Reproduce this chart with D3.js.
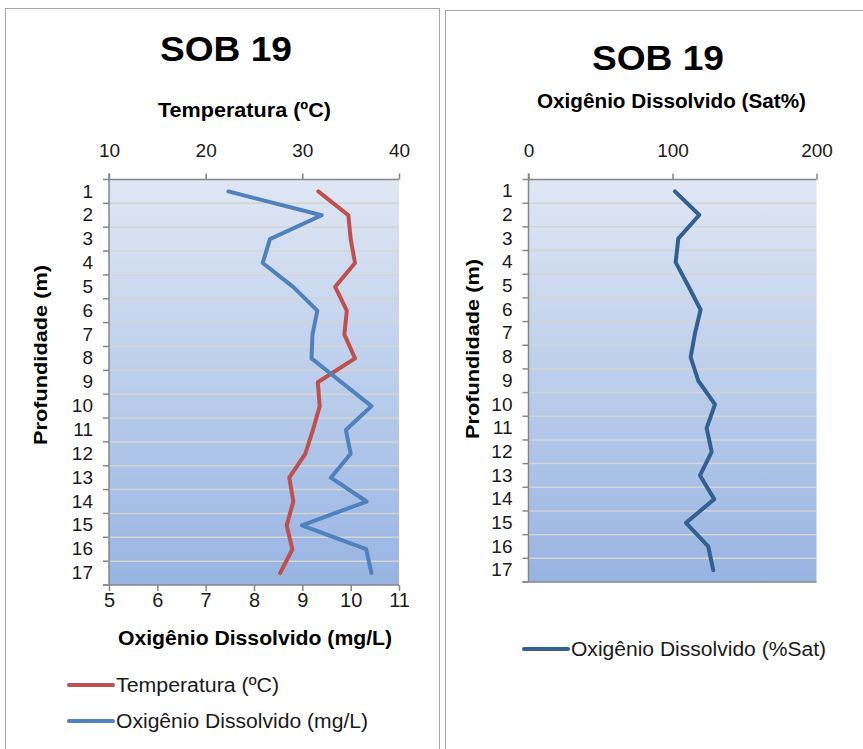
<!DOCTYPE html>
<html><head><meta charset="utf-8">
<script src="https://cdn.jsdelivr.net/npm/d3@7"></script>
<style>
body{margin:0;background:#fff;}
svg{display:block;font-family:"Liberation Sans",Arial,sans-serif;}
</style></head>
<body><svg id="c" width="863" height="749"></svg>
<script>
const depths = ["1","2","3","4","5","6","7","8","9","10","11","12","13","14","15","16","17"];
const temperatura = [31.65,34.76,35.0,35.45,33.4,34.6,34.35,35.45,31.6,31.8,31.1,30.3,28.65,29.07,28.38,28.97,27.7];
const odMgL = [7.47,9.40,8.33,8.18,8.81,9.31,9.21,9.19,9.81,10.43,9.90,10.0,9.59,10.33,8.99,10.32,10.43];
const odSat = [101.7,118.6,104.0,102.2,111.0,119.5,115.6,112.6,117.9,129.5,123.7,127.2,119.1,129.0,109.4,124.8,128.3];
const tempTicks = [10,20,30,40];
const odMgTicks = [5,6,7,8,9,10,11];
const satTicks = [0,100,200];

const svg = d3.select("#c");
const defs = svg.append("defs");
const grad = defs.append("linearGradient").attr("id","bg").attr("x1",0).attr("y1",0).attr("x2",0).attr("y2",1);
grad.append("stop").attr("offset","0%").attr("stop-color","#DFE7F4");
grad.append("stop").attr("offset","100%").attr("stop-color","#97B4E2");

// panel frames
svg.append("rect").attr("x",5.5).attr("y",8.5).attr("width",434).attr("height",760).attr("fill","none").attr("stroke","#A6A6A6");
svg.append("rect").attr("x",445.5).attr("y",10.5).attr("width",430).attr("height",760).attr("fill","none").attr("stroke","#A6A6A6");

const TICK_FS = 19;
function styleAxis(a){
  a.selectAll(".tick text").attr("font-size",TICK_FS).attr("fill","#1a1a1a").attr("font-family","'Liberation Sans',Arial,sans-serif");
  a.selectAll(".tick line").attr("stroke","#868686").attr("stroke-width",1.5);
}
function fitText(sel, len){
  sel.attr("textLength",len).attr("lengthAdjust","spacingAndGlyphs");
}

function panel(o){
  const g = svg.append("g");
  const y = d3.scaleBand().domain(depths).range([o.top,o.bottom]);
  g.append("rect").attr("x",o.left).attr("y",o.top).attr("width",o.right-o.left).attr("height",o.bottom-o.top).attr("fill","url(#bg)");
  g.append("g").selectAll("line").data(depths.slice(1)).join("line")
    .attr("x1",o.left).attr("x2",o.right)
    .attr("y1",d=>y(d)).attr("y2",d=>y(d))
    .attr("stroke","#D4D4D4").attr("stroke-width",1.5);
  // top axis
  const ax = g.append("g").attr("transform",`translate(0,${o.top})`)
    .call(d3.axisTop(o.xTop).tickValues(o.topTicks).tickSize(6).tickPadding(16.5).tickFormat(d3.format("d")));
  styleAxis(ax);
  ax.select(".domain").remove();
  ax.append("line").attr("x1",o.left).attr("x2",o.right).attr("stroke","#868686").attr("stroke-width",1.5);
  // left axis
  const ay = g.append("g").attr("transform",`translate(${o.left},0)`)
    .call(d3.axisLeft(y).tickSize(0).tickPadding(16));
  styleAxis(ay);
  ay.select(".domain").remove();
  ay.append("line").attr("y1",o.top-6).attr("y2",o.bottom).attr("stroke","#868686").attr("stroke-width",1.5);
  ay.append("g").selectAll("line").data(depths).join("line")
    .attr("x1",-6).attr("x2",0).attr("y1",d=>y(d)).attr("y2",d=>y(d)).attr("stroke","#868686").attr("stroke-width",1.5);
  ay.append("line").attr("x1",-6).attr("x2",0).attr("y1",o.bottom).attr("y2",o.bottom).attr("stroke","#868686").attr("stroke-width",1.5);
  // bottom axis
  const bx = g.append("g").attr("transform",`translate(0,${o.bottom})`);
  if(o.xBot){
    bx.call(d3.axisBottom(o.xBot).tickValues(o.botTicks).tickSize(6).tickPadding(2).tickFormat(d3.format("d")));
    styleAxis(bx);
    bx.selectAll(".tick text").attr("font-size",20);
    bx.select(".domain").remove();
  }
  bx.append("line").attr("x1",o.left-6).attr("x2",o.right).attr("stroke","#868686").attr("stroke-width",1.5);
  // Y title
  g.append("text").attr("transform",`translate(${o.ytX},${o.ytY}) rotate(-90)`)
    .attr("text-anchor","middle").attr("font-weight","bold").attr("font-size",19).attr("fill","#000")
    .text("Profundidade (m)").call(fitText,180);
  // series
  o.series.forEach(s=>{
    const line = d3.line().x(v=>s.x(v)).y((v,i)=>y(depths[i])+y.bandwidth()/2);
    g.append("path").datum(s.values).attr("d",line).attr("fill","none")
      .attr("stroke",s.color).attr("stroke-width",4).attr("stroke-linejoin","round").attr("stroke-linecap","round");
  });
}

const L = {left:109,right:399,top:179.5,bottom:585};
const xT = d3.scaleLinear().domain([10,40]).range([L.left,L.right]);
const xO = d3.scaleLinear().domain([5,11]).range([L.left,L.right]);
panel({...L, xTop:xT, topTicks:tempTicks, xBot:xO, botTicks:odMgTicks, ytX:47, ytY:355,
  series:[{values:temperatura,x:xT,color:"#C0504D"},{values:odMgL,x:xO,color:"#4F81BD"}]});

const R = {left:528.5,right:816.5,top:179.5,bottom:582};
const xS = d3.scaleLinear().domain([0,200]).range([R.left,R.right]);
panel({...R, xTop:xS, topTicks:satTicks, xBot:null, ytX:479, ytY:349,
  series:[{values:odSat,x:xS,color:"#34608F"}]});

// titles
const T = svg.append("g").attr("font-weight","bold").attr("fill","#000").attr("text-anchor","middle");
T.append("text").attr("x",226).attr("y",61).attr("font-size",35).text("SOB 19").call(fitText,132);
T.append("text").attr("x",658).attr("y",70).attr("font-size",35).text("SOB 19").call(fitText,132);
T.append("text").attr("x",244.5).attr("y",117).attr("font-size",20).text("Temperatura (ºC)").call(fitText,173);
T.append("text").attr("x",671.5).attr("y",108).attr("font-size",20).text("Oxigênio Dissolvido  (Sat%)").call(fitText,269);
T.append("text").attr("x",255).attr("y",645).attr("font-size",20).text("Oxigênio Dissolvido  (mg/L)").call(fitText,274);

// legends
const legends = [
  {x:69,y:685,color:"#C0504D",label:"Temperatura (ºC)",w:163},
  {x:69,y:721,color:"#4F81BD",label:"Oxigênio Dissolvido (mg/L)",w:252},
  {x:524,y:649,color:"#34608F",label:"Oxigênio Dissolvido (%Sat)",w:255}
];
const lg = svg.append("g").selectAll("g").data(legends).join("g").attr("transform",d=>`translate(${d.x},${d.y})`);
lg.append("line").attr("x1",0).attr("x2",44).attr("stroke",d=>d.color).attr("stroke-width",4).attr("stroke-linecap","round");
lg.append("text").attr("x",47).attr("y",7).attr("font-size",20).attr("fill","#1a1a1a")
  .text(d=>d.label).each(function(d){ d3.select(this).call(fitText,d.w); });
</script></body></html>
